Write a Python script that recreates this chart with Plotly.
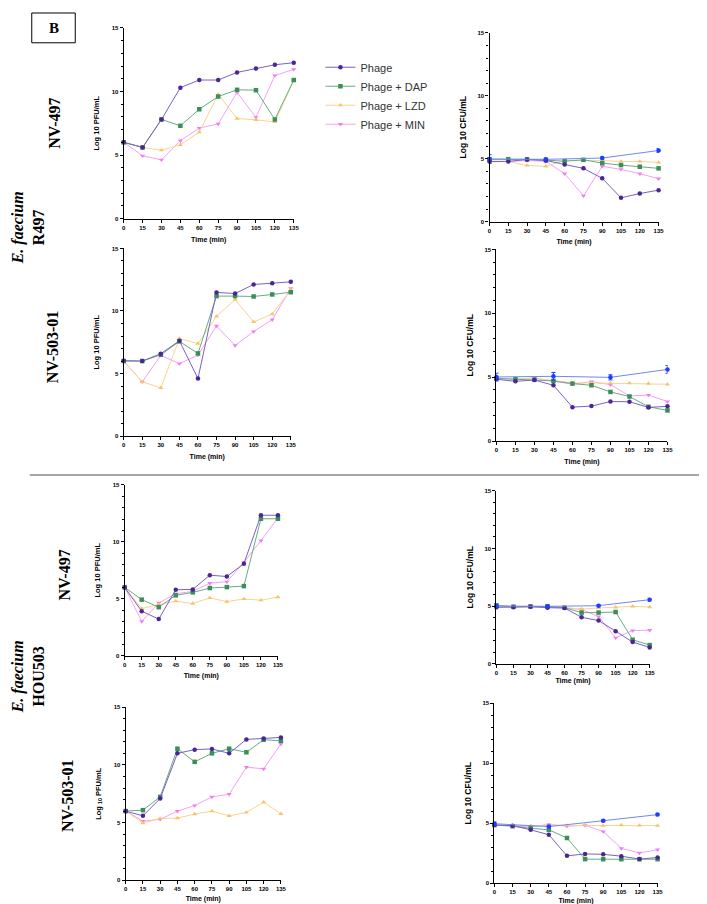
import plotly.graph_objects as go

# ---------------- data ----------------
time = [0, 15, 30, 45, 60, 75, 90, 105, 120, 135]
ctrl_time = [0, 45, 90, 135]
x_ticks = [0, 15, 30, 45, 60, 75, 90, 105, 120, 135]
y_ticks = [0, 5, 10, 15]

series_names = ["Phage", "Phage + DAP", "Phage + LZD", "Phage + MIN"]

# E. faecium R497 / NV-497 / PFU
p1_phage = [6.0, 5.6, 7.8, 10.3, 10.9, 10.9, 11.5, 11.8, 12.1, 12.26]
p1_dap = [6.0, 5.6, 7.8, 7.3, 8.6, 9.6, 10.13, 10.1, 7.8, 10.9]
p1_lzd = [6.0, 5.6, 5.38, 5.8, 6.8, 9.77, 7.87, 7.77, 7.6, 10.85]
p1_min = [6.0, 4.94, 4.62, 6.13, 7.12, 7.45, 9.92, 7.97, 11.25, 11.74]

# E. faecium R497 / NV-497 / CFU
p2_phage = [4.78, 4.78, 4.94, 4.86, 4.54, 4.23, 3.44, 1.89, 2.23, 2.5]
p2_dap = [4.96, 4.96, 4.94, 4.88, 4.8, 4.91, 4.65, 4.49, 4.36, 4.23]
p2_lzd = [4.73, 4.78, 4.46, 4.39, 4.86, 4.86, 4.84, 4.78, 4.78, 4.7]
p2_min = [4.78, 4.78, 4.86, 4.78, 3.81, 2.05, 4.39, 4.15, 3.81, 3.41]
p2_ctrl = [4.97, 4.95, 5.05, 5.65]
p2_ctrl_err = [0.35, 0.08, 0.08, 0.15]

# E. faecium R497 / NV-503-01 / PFU
p3_phage = [6.03, 6.0, 6.59, 7.62, 4.6, 11.48, 11.4, 12.12, 12.22, 12.33]
p3_dap = [6.0, 6.0, 6.5, 7.57, 6.61, 11.19, 11.19, 11.16, 11.32, 11.5]
p3_lzd = [6.0, 4.34, 3.86, 7.8, 7.4, 9.58, 10.9, 9.13, 9.76, 11.69]
p3_min = [6.0, 4.34, 6.46, 5.79, 6.48, 8.81, 7.25, 8.36, 9.31, 11.8]

# E. faecium R497 / NV-503-01 / CFU
p4_phage = [4.84, 4.68, 4.78, 4.37, 2.66, 2.74, 3.1, 3.08, 2.64, 2.72]
p4_dap = [4.91, 4.85, 4.81, 4.71, 4.5, 4.37, 3.85, 3.49, 2.69, 2.4]
p4_lzd = [4.9, 4.9, 4.9, 4.75, 4.55, 4.55, 4.53, 4.53, 4.5, 4.45]
p4_min = [4.9, 4.85, 4.94, 4.68, 4.45, 4.65, 4.42, 3.54, 3.6, 3.1]
p4_ctrl = [5.02, 5.07, 4.99, 5.61]
p4_ctrl_err = [0.3, 0.3, 0.2, 0.3]

# E. faecium HOU503 / NV-497 / PFU
p5_phage = [5.99, 3.91, 3.21, 5.79, 5.82, 7.07, 6.95, 8.08, 12.33, 12.33]
p5_dap = [6.0, 4.92, 4.26, 5.3, 5.56, 5.94, 6.02, 6.11, 12.02, 12.02]
p5_lzd = [6.0, 4.14, 4.49, 4.78, 4.58, 5.07, 4.75, 4.98, 4.87, 5.15]
p5_min = [6.0, 3.01, 4.63, 5.44, 5.65, 6.37, 6.49, 8.2, 10.1, 12.1]

# E. faecium HOU503 / NV-497 / CFU
p6_phage = [4.89, 4.89, 4.94, 4.86, 4.83, 4.02, 3.74, 2.82, 1.87, 1.41]
p6_dap = [5.06, 4.94, 4.97, 4.97, 4.86, 4.43, 4.43, 4.48, 2.07, 1.61]
p6_lzd = [4.9, 4.9, 4.94, 4.9, 4.86, 4.74, 4.83, 4.89, 4.97, 4.91]
p6_min = [4.9, 4.9, 4.94, 4.86, 4.83, 4.71, 4.08, 2.24, 2.87, 2.9]
p6_ctrl = [5.0, 4.97, 5.03, 5.55]
p6_ctrl_err = [0.1, 0.08, 0.08, 0.12]

# E. faecium HOU503 / NV-503-01 / PFU
p7_phage = [5.99, 5.59, 7.08, 11.01, 11.33, 11.39, 11.01, 12.22, 12.3, 12.39]
p7_dap = [6.0, 6.08, 7.23, 11.41, 10.27, 11.01, 11.41, 11.1, 12.19, 12.1]
p7_lzd = [6.0, 4.96, 5.36, 5.39, 5.74, 5.99, 5.59, 5.88, 6.77, 5.76]
p7_min = [6.0, 5.13, 5.28, 5.99, 6.48, 7.23, 7.46, 9.81, 9.66, 11.82]

# E. faecium HOU503 / NV-503-01 / CFU
p8_phage = [4.85, 4.8, 4.45, 4.04, 2.28, 2.44, 2.41, 2.25, 2.01, 2.14]
p8_dap = [4.85, 4.75, 4.58, 4.45, 3.77, 2.01, 2.0, 2.0, 2.0, 2.0]
p8_lzd = [4.85, 4.8, 4.8, 4.82, 4.82, 4.85, 4.8, 4.85, 4.82, 4.8]
p8_min = [4.85, 4.8, 4.69, 4.91, 4.75, 4.83, 4.31, 2.9, 2.52, 2.79]
p8_ctrl = [4.96, 4.72, 5.21, 5.72]
p8_ctrl_err = [0.15, 0.08, 0.08, 0.1]

# ---------------- styling ----------------
W, H = 707, 904
styles = {
    "Phage": dict(mc="#4b2596", lc="#7a62c0", sym="circle"),
    "Phage + DAP": dict(mc="#3a8f57", lc="#66ad80", sym="square"),
    "Phage + LZD": dict(mc="#f6c46a", lc="#f9d390", sym="triangle-up"),
    "Phage + MIN": dict(mc="#f27cf2", lc="#f6a0f6", sym="triangle-down"),
}
ctrl_style = dict(mc="#1f3dff", lc="#6f88f2")

# panel boxes in pixels: (x_left, x_right, y_top, y_bottom), kind, x-title standoff
panels = [
    ((115, 287, 17, 209), "PFU", [p1_phage, p1_dap, p1_lzd, p1_min], None, None, 7),
    ((485, 656, 22, 212), "CFU", [p2_phage, p2_dap, p2_lzd, p2_min], p2_ctrl, p2_ctrl_err, 6),
    ((115, 284, 239, 428), "PFU", [p3_phage, p3_dap, p3_lzd, p3_min], None, None, 6),
    ((492, 665, 240, 433), "CFU", [p4_phage, p4_dap, p4_lzd, p4_min], p4_ctrl, p4_ctrl_err, 6),
    ((116, 271, 477, 649), "PFU", [p5_phage, p5_dap, p5_lzd, p5_min], None, None, 6),
    ((492, 647, 483, 657), "CFU", [p6_phage, p6_dap, p6_lzd, p6_min], p6_ctrl, p6_ctrl_err, 3),
    ((117, 274, 701, 875), "PFU10", [p7_phage, p7_dap, p7_lzd, p7_min], None, None, 4),
    ((490, 655, 697, 878), "CFU", [p8_phage, p8_dap, p8_lzd, p8_min], p8_ctrl, p8_ctrl_err, 3),
]

fig = go.Figure()
FONT = "Liberation Sans"
layout_axes = {}

for i, (box, kind, series, ctrl, ctrl_err, xstand) in enumerate(panels, start=1):
    xl, xr, yt, yb = box
    xa = "x" if i == 1 else f"x{i}"
    ya = "y" if i == 1 else f"y{i}"
    xkey = "xaxis" if i == 1 else f"xaxis{i}"
    ykey = "yaxis" if i == 1 else f"yaxis{i}"

    # draw order: MIN, LZD, DAP, Phage so purple sits on top
    for name, vals in reversed(list(zip(series_names, series))):
        st = styles[name]
        fig.add_trace(go.Scatter(
            x=time, y=vals, name=name, mode="lines+markers",
            line=dict(color=st["lc"], width=1),
            marker=dict(color=st["mc"], symbol=st["sym"], size=4.5),
            xaxis=xa, yaxis=ya, showlegend=(i == 1),
            legendrank=series_names.index(name) + 1,
            cliponaxis=False,
        ))
    if ctrl is not None:
        fig.add_trace(go.Scatter(
            x=ctrl_time, y=ctrl, mode="lines+markers", name="Control",
            line=dict(color=ctrl_style["lc"], width=1),
            marker=dict(color=ctrl_style["mc"], symbol="circle", size=4.5),
            error_y=dict(type="data", array=ctrl_err, color=ctrl_style["mc"],
                         thickness=1, width=2),
            xaxis=xa, yaxis=ya, showlegend=False, cliponaxis=False,
        ))

    if kind == "PFU":
        ytitle = "<b>Log 10 PFU/mL</b>"
        ysize, ystand = 7.5, 11
    elif kind == "PFU10":
        ytitle = "<b>Log <sub>10</sub> PFU/mL</b>"
        ysize, ystand = 7.5, 11
    else:
        ytitle = "<b>Log 10 CFU/mL</b>"
        ysize, ystand = 8.5, 9

    layout_axes[xkey] = dict(
        domain=[xl / W, xr / W], anchor=ya, range=[0, 135],
        tickvals=x_ticks, ticktext=[str(t) for t in x_ticks],
        ticks="outside", ticklen=3, tickwidth=1, tickcolor="black",
        showline=True, linecolor="black", linewidth=1.2,
        showgrid=False, zeroline=False,
        tickfont=dict(family=FONT, size=6, color="black", weight="bold"),
        title=dict(text="<b>Time (min)</b>", standoff=xstand,
                   font=dict(family=FONT, size=7, color="black")),
    )
    layout_axes[ykey] = dict(
        domain=[1 - yb / H, 1 - yt / H], anchor=xa, range=[0, 15],
        tickvals=y_ticks, ticktext=[str(t) for t in y_ticks],
        ticks="outside", ticklen=3, tickwidth=1, tickcolor="black",
        minor=dict(dtick=1, ticks="outside", ticklen=2, tickcolor="black", tickwidth=1),
        showline=True, linecolor="black", linewidth=1.2,
        showgrid=False, zeroline=False,
        tickfont=dict(family=FONT, size=6, color="black", weight="bold"),
        title=dict(text=ytitle, standoff=ystand,
                   font=dict(family=FONT, size=ysize, color="black")),
    )

fig.update_layout(**layout_axes)

SERIF = "Liberation Serif"
annotations = [
    dict(x=44 / W, y=1 - 17 / H, text="<b>B</b>", font=dict(family=SERIF, size=15, color="black")),
    dict(x=45 / W, y=1 - 113 / H, text="<b>NV-497</b>", textangle=-90, font=dict(family=SERIF, size=16, color="black")),
    dict(x=43 / W, y=1 - 338 / H, text="<b>NV-503-01</b>", textangle=-90, font=dict(family=SERIF, size=16, color="black")),
    dict(x=55 / W, y=1 - 568 / H, text="<b>NV-497</b>", textangle=-90, font=dict(family=SERIF, size=16, color="black")),
    dict(x=58 / W, y=1 - 790 / H, text="<b>NV-503-01</b>", textangle=-90, font=dict(family=SERIF, size=16, color="black")),
    dict(x=18 / W, y=1 - 218 / H, text="<b><i>E. faecium</i></b><br><b>R497</b>", textangle=-90,
         font=dict(family=SERIF, size=16, color="black")),
    dict(x=18 / W, y=1 - 670 / H, text="<b><i>E. faecium</i></b><br><b>HOU503</b>", textangle=-90,
         font=dict(family=SERIF, size=16, color="black")),
]
for a in annotations:
    a.update(xref="paper", yref="paper", showarrow=False, xanchor="center", yanchor="middle")

shapes = [
    dict(type="rect", xref="paper", yref="paper", x0=22 / W, x1=66 / W, y0=1 - 32 / H, y1=1 - 2 / H,
         line=dict(color="black", width=1)),
    dict(type="line", xref="paper", yref="paper", x0=20 / W, x1=1.0, y0=1 - 467 / H, y1=1 - 467 / H,
         line=dict(color="#8a8a8a", width=1.5)),
]

fig.update_layout(
    width=W, height=H,
    margin=dict(l=0, r=0, t=0, b=0),
    paper_bgcolor="white", plot_bgcolor="white",
    annotations=annotations, shapes=shapes,
    legend=dict(x=314 / W, y=1 - 42 / H, xanchor="left", yanchor="top",
                font=dict(family=FONT, size=11, color="#333333"),
                bgcolor="rgba(0,0,0,0)", tracegroupgap=0, itemwidth=30),
    showlegend=True,
)

fig.write_html("out.html")
